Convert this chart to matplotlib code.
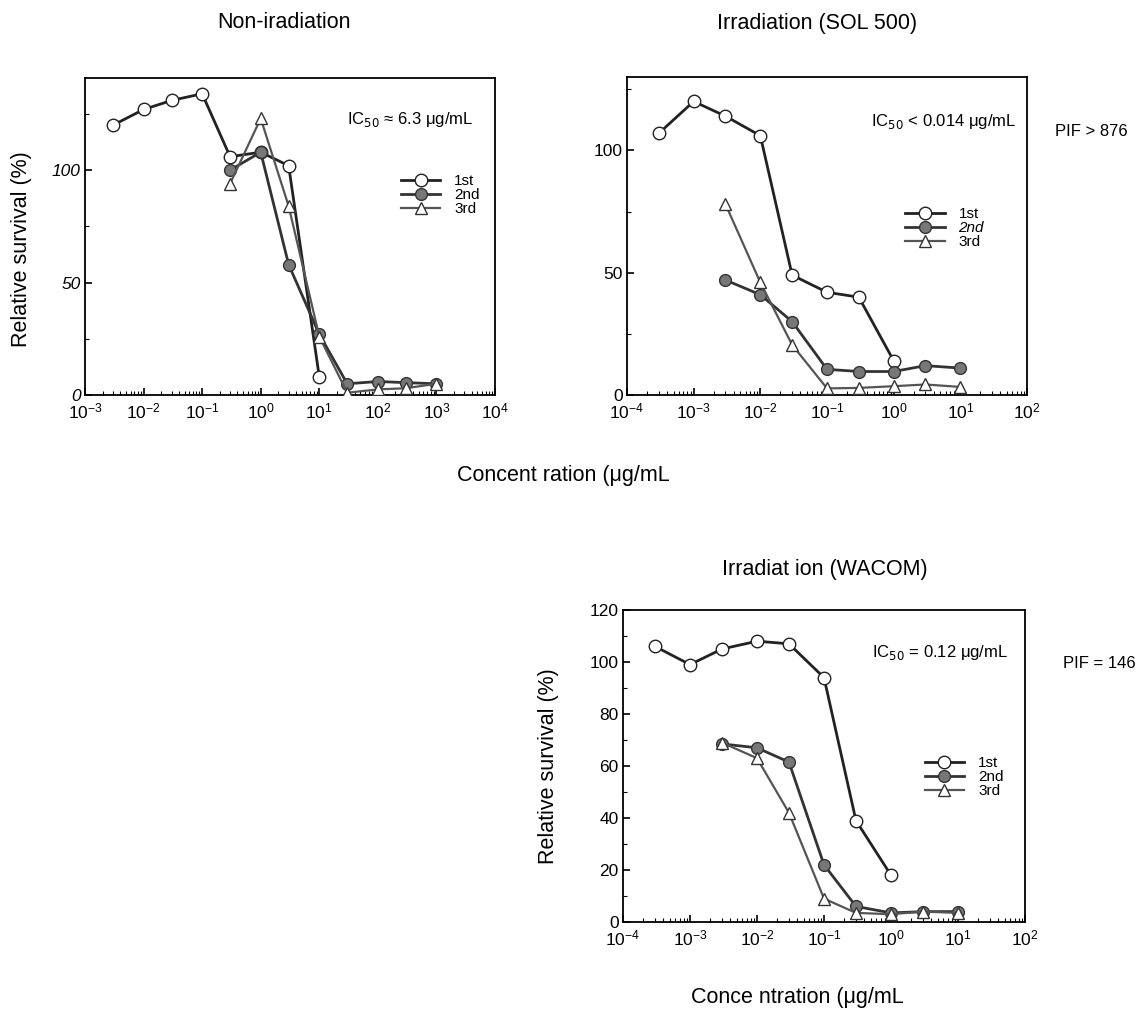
import numpy as np
import matplotlib
matplotlib.use("Agg")
import matplotlib.pyplot as plt
from matplotlib.ticker import LogLocator, NullFormatter, MultipleLocator

plt.rcParams['font.family'] = ['Liberation Sans', 'DejaVu Sans']

# --- data ---
# Non-irradiation
nonirr_x1 = [0.003, 0.01, 0.03, 0.1, 0.3, 1, 3, 10]
nonirr_y1 = [120, 127, 131, 134, 106, 108, 102, 8]
nonirr_x2 = [0.3, 1, 3, 10, 30, 100, 300, 1000]
nonirr_y2 = [100, 108, 58, 27, 5, 6, 5.5, 5]
nonirr_x3 = [0.3, 1, 3, 10, 30, 100, 300, 1000]
nonirr_y3 = [94, 123, 84, 26, 1, 2.5, 3, 5]

# Irradiation (SOL 500)
sol_x1 = [0.0003, 0.001, 0.003, 0.01, 0.03, 0.1, 0.3, 1]
sol_y1 = [107, 120, 114, 106, 49, 42, 40, 14]
sol_x2 = [0.003, 0.01, 0.03, 0.1, 0.3, 1, 3, 10]
sol_y2 = [47, 41, 30, 10.5, 9.6, 9.6, 12, 11]
sol_x3 = [0.003, 0.01, 0.03, 0.1, 0.3, 1, 3, 10]
sol_y3 = [78, 46, 20.5, 2.7, 2.9, 3.6, 4.3, 3.3]

# Irradiation (WACOM)
wac_x1 = [0.0003, 0.001, 0.003, 0.01, 0.03, 0.1, 0.3, 1]
wac_y1 = [106, 99, 105, 108, 107, 94, 39, 18]
wac_x2 = [0.003, 0.01, 0.03, 0.1, 0.3, 1, 3, 10]
wac_y2 = [68.5, 67, 61.5, 22, 6, 3.5, 4, 4]
wac_x3 = [0.003, 0.01, 0.03, 0.1, 0.3, 1, 3, 10]
wac_y3 = [69, 63, 42, 9, 3.5, 3, 4, 3.5]

labels = ["1st", "2nd", "3rd"]

W, H = 1139, 1016
fig = plt.figure(figsize=(W / 100, H / 100), dpi=100)


def draw_panel(rect, xs, ys, xlim, ylim, ymajor, ic_text, ic_pos, leg_anchor,
               ylabel=None, ylab_xy=(-0.15, 0.5), italic_y=False, italic_2nd=False):
    ax = fig.add_axes(rect)
    styles = [
        dict(color='#222222', marker='o', mfc='white', mec='#222222', ms=9, lw=2.0),
        dict(color='#333333', marker='o', mfc='#777777', mec='#333333', ms=8.5, lw=2.0),
        dict(color='#555555', marker='^', mfc='white', mec='#333333', ms=9, lw=1.6),
    ]
    for x, y, st, lab in zip(xs, ys, styles, labels):
        ax.plot(x, y, label=lab, zorder=3, **st)
    ax.set_xscale('log')
    ax.set_xlim(*xlim)
    ax.set_ylim(*ylim)
    ax.xaxis.set_major_locator(LogLocator(base=10, numticks=20))
    ax.xaxis.set_minor_locator(LogLocator(base=10, subs=np.arange(2, 10), numticks=100))
    ax.xaxis.set_minor_formatter(NullFormatter())
    ax.yaxis.set_major_locator(MultipleLocator(ymajor))
    ax.yaxis.set_minor_locator(MultipleLocator(ymajor / 2))
    ax.tick_params(which='both', direction='in', labelsize=12.5)
    ax.tick_params(which='major', length=5, width=1.2, pad=3)
    ax.tick_params(which='minor', length=3, width=0.8)
    ax.tick_params(axis='x', pad=5)
    if italic_y:
        for t in ax.get_yticklabels():
            t.set_fontstyle('italic')
    for s in ax.spines.values():
        s.set_linewidth(1.3)
    ax.text(ic_pos[0], ic_pos[1], ic_text, transform=ax.transAxes, fontsize=12,
            ha='left', va='center')
    leg = ax.legend(loc='center left', bbox_to_anchor=leg_anchor, frameon=False, fontsize=11,
                    handlelength=2.6, labelspacing=0.0, handletextpad=0.9, borderaxespad=0)
    if italic_2nd:
        leg.get_texts()[1].set_fontstyle('italic')
    if ylabel:
        ax.set_ylabel(ylabel, fontsize=15.5)
        ax.yaxis.set_label_coords(*ylab_xy)
    return ax


draw_panel([85 / W, 1 - 395 / H, 410 / W, 317 / H],
           [nonirr_x1, nonirr_x2, nonirr_x3], [nonirr_y1, nonirr_y2, nonirr_y3],
           (1e-3, 1e4), (0, 141), 50,
           "IC$_{50}$ ≈ 6.3 μg/mL", (0.64, 0.87), (0.755, 0.63),
           ylabel="Relative survival (%)", ylab_xy=(-0.13, 0.46), italic_y=True)

draw_panel([627 / W, 1 - 395 / H, 400 / W, 318 / H],
           [sol_x1, sol_x2, sol_x3], [sol_y1, sol_y2, sol_y3],
           (1e-4, 1e2), (0, 130), 50,
           "IC$_{50}$ < 0.014 μg/mL", (0.61, 0.86), (0.68, 0.525), italic_2nd=True)

draw_panel([623 / W, 1 - 922 / H, 402 / W, 312 / H],
           [wac_x1, wac_x2, wac_x3], [wac_y1, wac_y2, wac_y3],
           (1e-4, 1e2), (0, 120), 20,
           "IC$_{50}$ = 0.12 μg/mL", (0.62, 0.865), (0.735, 0.465),
           ylabel="Relative survival (%)", ylab_xy=(-0.16, 0.5))

fs = 15.5
fig.text(284 / W, 1 - 23 / H, "Non-iradiation", ha='center', va='center', fontsize=fs)
fig.text(817 / W, 1 - 23 / H, "Irradiation (SOL 500)", ha='center', va='center', fontsize=fs)
fig.text(457 / W, 1 - 475 / H, "Concent ration (μg/mL", ha='left', va='center', fontsize=fs)
fig.text(825 / W, 1 - 570 / H, "Irradiat ion (WACOM)", ha='center', va='center', fontsize=fs)
fig.text(797 / W, 1 - 998 / H, "Conce ntration (μg/mL", ha='center', va='center', fontsize=fs)
fig.text(1091 / W, 1 - 132 / H, "PIF > 876", ha='center', va='center', fontsize=12)
fig.text(1136 / W, 1 - 663 / H, "PIF = 146", ha='right', va='center', fontsize=12)

fig.savefig("out.png", dpi=100)
